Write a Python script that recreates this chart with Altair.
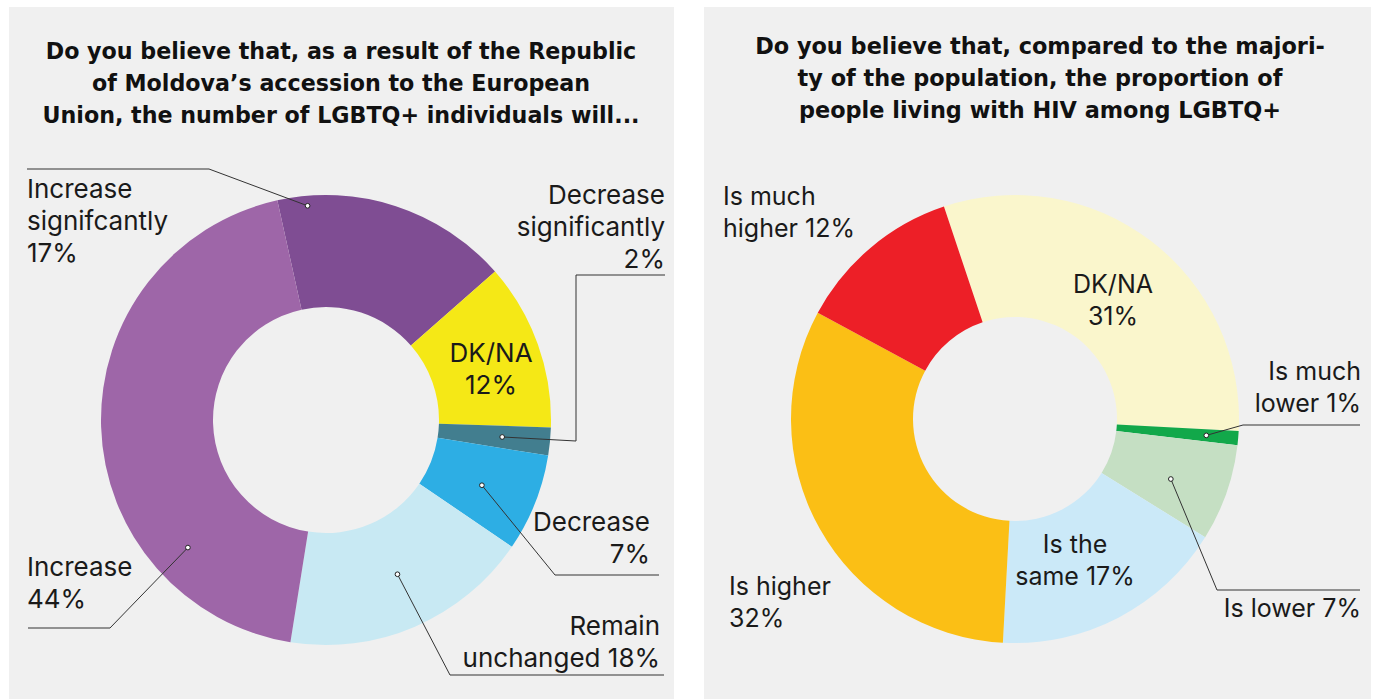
import math
import altair as alt
import pandas as pd

# ---------------- data ----------------
left_title = ["Do you believe that, as a result of the Republic",
              "of Moldova\u2019s accession to the European",
              "Union, the number of LGBTQ+ individuals will..."]
left_cats = ["Increase signifcantly", "DK/NA", "Decrease significantly",
             "Decrease", "Remain unchanged", "Increase"]
left_vals = [17, 12, 2, 7, 18, 44]
left_colors = ["#7f4d93", "#f5e816", "#427e8f", "#2daee4", "#c8e9f3", "#9e66a8"]

right_title = ["Do you believe that, compared to the majori-",
               "ty of the population, the proportion of",
               "people living with HIV among LGBTQ+"]
right_cats = ["DK/NA ", "Is much lower", "Is lower", "Is the same",
              "Is higher", "Is much higher"]
right_vals = [31, 1, 7, 17, 32, 12]
right_colors = ["#faf6cc", "#12a84a", "#c5dfc3", "#cbe9f8", "#fbbf15", "#ed1f27"]

# label line texts (percentages filled from the values)
left_label_lines = {
    "Increase signifcantly": ["Increase", "signifcantly", "{v}%"],
    "DK/NA": ["DK/NA", "{v}%"],
    "Decrease significantly": ["Decrease", "significantly", "{v}%"],
    "Decrease": ["Decrease", "{v}%"],
    "Remain unchanged": ["Remain", "unchanged {v}%"],
    "Increase": ["Increase", "{v}%"],
}
right_label_lines = {
    "DK/NA ": ["DK/NA", "{v}%"],
    "Is much lower": ["Is much", "lower {v}%"],
    "Is lower": ["Is lower {v}%"],
    "Is the same": ["Is the", "same {v}%"],
    "Is higher": ["Is higher", "{v}%"],
    "Is much higher": ["Is much", "higher {v}%"],
}

# ---------------- layout ----------------
W_L, W_R, H = 665, 667, 692
LINE_H = 32
FONT = "Inter"
TITLE_FONT = "DejaVu Sans"

# label placement: (x, first line y, align)
left_label_pos = {
    "Increase signifcantly": (18, 183, "left"),
    "DK/NA": (482, 347, "center"),
    "Decrease significantly": (656, 189, "right"),
    "Decrease": (641, 516, "right"),
    "Remain unchanged": (651, 620, "right"),
    "Increase": (18, 561, "left"),
}
right_label_pos = {
    "DK/NA ": (409, 278, "center"),
    "Is much lower": (657, 365, "right"),
    "Is lower": (657, 602, "right"),
    "Is the same": (371, 538, "center"),
    "Is higher": (25, 580, "left"),
    "Is much higher": (19, 190, "left"),
}
# leader: dot (fraction along slice, radius) and elbow/end points
left_leaders = {
    "Increase signifcantly": (0.124, 215, [(200, 162), (18, 162)]),
    "Decrease significantly": (0.5, 177, [(567, 434), (567, 268), (656, 268)]),
    "Decrease": (0.54, 169, [(546, 568), (650, 568)]),
    "Remain unchanged": (0.476, 170, [(441, 668), (655, 668)]),
    "Increase": (0.241, 188, [(101, 621), (19, 621)]),
}
right_leaders = {
    "Is much lower": (0.5, 192, [(539, 418), (656, 418)]),
    "Is lower": (0.57, 167, [(513, 583), (656, 583)]),
}


def panel(title, title_cx, title_y0, cats, vals, colors, start_deg,
          cx, cy, r_out, r_in, label_lines, label_pos, leaders, W, fs, tfs):
    df = pd.DataFrame({"cat": cats, "value": vals, "idx": list(range(len(cats)))})
    a0 = math.radians(start_deg)
    xs = alt.Scale(domain=[0, W], nice=False, zero=False)
    ys = alt.Scale(domain=[0, H], nice=False, zero=False, reverse=True)

    arc = alt.Chart(df).mark_arc(outerRadius=r_out, innerRadius=r_in).encode(
        theta=alt.Theta("value:Q", stack=True,
                        scale=alt.Scale(range=[a0, a0 + 2 * math.pi])),
        color=alt.Color("cat:N", scale=alt.Scale(domain=cats, range=colors), legend=None),
        order=alt.Order("idx:Q"),
        x=alt.value(cx), y=alt.value(cy),
    )

    total = sum(vals)
    starts, acc = {}, 0
    for c, v in zip(cats, vals):
        starts[c] = (a0 + 2 * math.pi * acc / total, 2 * math.pi * v / total)
        acc += v

    rows = []
    for c, v in zip(cats, vals):
        x, y0, align = label_pos[c]
        for i, ln in enumerate(label_lines[c]):
            rows.append({"t": ln.format(v=v), "x": x, "y": y0 + i * LINE_H, "align": align})
    lab = pd.DataFrame(rows)

    layers = [arc]
    for align in ["left", "right", "center"]:
        sub = lab[lab["align"] == align]
        if len(sub):
            layers.append(alt.Chart(sub).mark_text(
                align=align, baseline="middle", font=FONT, fontSize=fs, color="#1a1a1a"
            ).encode(x=alt.X("x:Q", scale=xs, axis=None),
                     y=alt.Y("y:Q", scale=ys, axis=None), text="t:N"))

    trows = [{"t": t, "x": title_cx, "y": title_y0 + i * LINE_H} for i, t in enumerate(title)]
    layers.append(alt.Chart(pd.DataFrame(trows)).mark_text(
        align="center", baseline="middle", font=TITLE_FONT, fontSize=tfs, fontWeight="bold",
        color="#111111"
    ).encode(x=alt.X("x:Q", scale=xs, axis=None),
             y=alt.Y("y:Q", scale=ys, axis=None), text="t:N"))

    seg, dots = [], []
    for c, (frac, r, pts) in leaders.items():
        s, span = starts[c]
        ang = s + frac * span
        dx, dy = cx + r * math.sin(ang), cy - r * math.cos(ang)
        dots.append({"x": dx, "y": dy})
        poly = [(dx, dy)] + pts
        for (x1, y1), (x2, y2) in zip(poly[:-1], poly[1:]):
            seg.append({"x": x1, "y": y1, "x2": x2, "y2": y2})
    if seg:
        layers.append(alt.Chart(pd.DataFrame(seg)).mark_rule(
            color="#333333", strokeWidth=1
        ).encode(x=alt.X("x:Q", scale=xs, axis=None), y=alt.Y("y:Q", scale=ys, axis=None),
                 x2="x2:Q", y2="y2:Q"))
        layers.append(alt.Chart(pd.DataFrame(dots)).mark_point(
            filled=True, fill="white", stroke="#222222", strokeWidth=1, size=22, opacity=1
        ).encode(x=alt.X("x:Q", scale=xs, axis=None), y=alt.Y("y:Q", scale=ys, axis=None)))

    return alt.layer(*layers).properties(width=W, height=H)


left = panel(left_title, 332, 45, left_cats, left_vals, left_colors, -12.5,
             317, 413, 225, 113, left_label_lines, left_label_pos, left_leaders, W_L, 26, 22.2)
right = panel(right_title, 336, 40, right_cats, right_vals, right_colors, -18.5,
              311, 412, 224, 102, right_label_lines, right_label_pos, right_leaders, W_R, 25, 22.4)

chart = alt.hconcat(left, right).resolve_scale(color="independent").properties(
    padding={"left": 9, "top": 7, "right": 5, "bottom": 0},
    background="white",
).configure_concat(spacing=30).configure_view(fill="#f0f0f0", strokeWidth=0)

chart.save("out.html", embed_options={"renderer": "svg", "actions": False})
